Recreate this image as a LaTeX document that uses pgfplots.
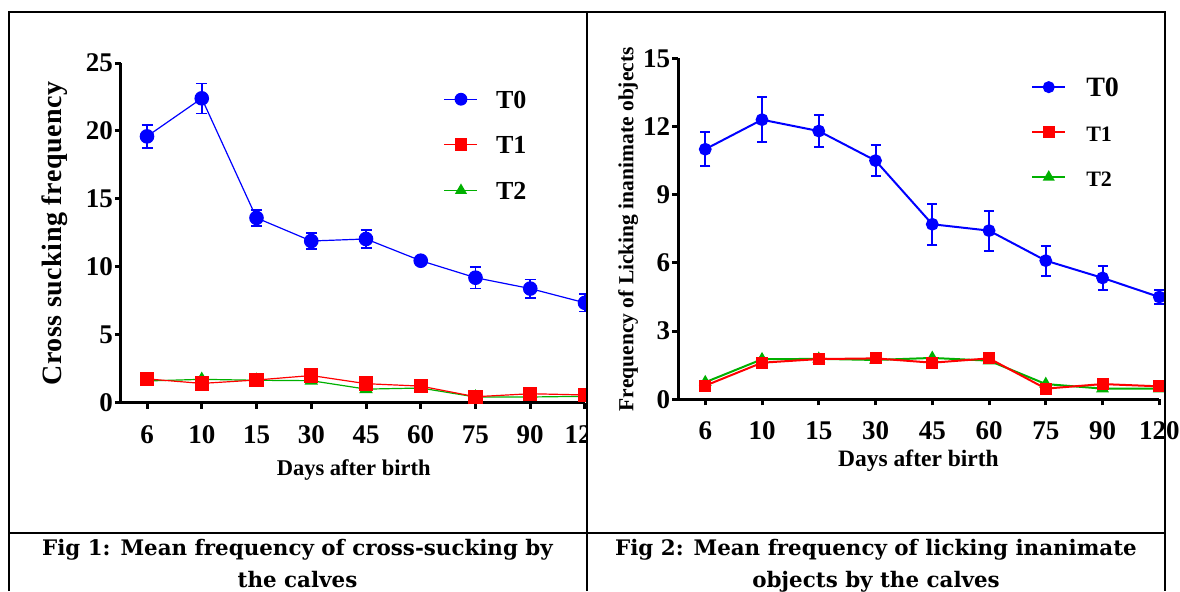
\documentclass[border=0pt]{standalone}
\usepackage{pgfplots}
\usepackage{pgfplotstable}
\pgfplotsset{compat=1.18}
\usepackage{fontspec}
\setmainfont{Liberation Serif}
\newfontfamily\capfont{DejaVu Serif}

\definecolor{tzero}{RGB}{0,0,255}
\definecolor{tone}{RGB}{255,0,0}
\definecolor{ttwo}{RGB}{0,176,0}

% cross-sucking (Fig 1)
\pgfplotstableread{
x y e
0 19.6 0.85
1 22.4 1.1
2 13.6 0.6
3 11.9 0.6
4 12.05 0.65
5 10.45 0.25
6 9.2 0.8
7 8.4 0.68
8 7.35 0.65
}\csZero
\pgfplotstableread{
x y
0 1.75
1 1.42
2 1.67
3 2.0
4 1.4
5 1.22
6 0.44
7 0.66
8 0.57
}\csOne
\pgfplotstableread{
x y
0 1.6
1 1.72
2 1.65
3 1.62
4 1.0
5 1.08
6 0.42
7 0.42
8 0.47
}\csTwo

% licking inanimate objects (Fig 2)
\pgfplotstableread{
x y e
0 11.0 0.75
1 12.3 1.0
2 11.8 0.72
3 10.5 0.67
4 7.7 0.9
5 7.42 0.88
6 6.1 0.66
7 5.34 0.52
8 4.5 0.32
}\lkZero
\pgfplotstableread{
x y
0 0.6
1 1.61
2 1.77
3 1.8
4 1.61
5 1.8
6 0.47
7 0.67
8 0.57
}\lkOne
\pgfplotstableread{
x y
0 0.75
1 1.76
2 1.78
3 1.73
4 1.82
5 1.7
6 0.67
7 0.47
8 0.47
}\lkTwo

\pgfplotsset{
  calfaxis/.style={
    scale only axis,
    axis x line*=bottom, axis y line*=left,
    axis line style={-, line width=1.5pt},
    xmin=-0.475, xmax=8, ymin=0,
    xtick={0,...,8},
    xticklabels={6,10,15,30,45,60,75,90,120},
    tick align=outside,
    major tick length=3pt,
    major tick style={black, line width=1.5pt},
    tick label style={font=\bfseries\fontsize{13.5}{13.5}\selectfont},
    /pgf/number format/assume math mode=true,
    xticklabel style={anchor=base, yshift=-17.2pt},
    yticklabel style={xshift=2.5pt},
    clip=false,
    legend image code/.code={\draw[mark repeat=2,mark phase=2] plot coordinates {(0pt,0pt)(8.25pt,0pt)(16.5pt,0pt)};},
    reverse legend,
  },
}

\begin{document}
\begin{tikzpicture}[x=0.5pt, y=0.5pt]
\path[use as bounding box] (0,0) rectangle (1180,591);

\begin{scope}
\clip (0,0) rectangle (587,591);
\begin{axis}[calfaxis,
    at={(60.5pt,94.15pt)}, anchor=south west,
    width=232pt, height=169.85pt,
    ymax=25, ytick={0,5,...,25},
    legend style={draw=none, fill=none, at={(rel axis cs:0.695,0.921)}, anchor=north west,
      inner sep=0pt, row sep=13.8pt, column sep=9pt,
      font=\bfseries\fontsize{13}{13}\selectfont,
      nodes={inner sep=0pt, text height=9pt, text depth=0pt}},
    legend cell align=left,
    legend image post style={mark size=2.9pt},
  ]
  \addplot[color=ttwo, line width=0.6pt, mark=triangle*, mark size=3.3pt, mark options={fill=ttwo}]
    table[x=x, y=y] {\csTwo};
  \addlegendentry{T2}
  \addplot[color=tone, line width=0.6pt, mark=square*, mark size=3.3pt, mark options={fill=tone}]
    table[x=x, y=y] {\csOne};
  \addlegendentry{T1}
  \addplot[color=tzero, line width=0.6pt, mark=*, mark size=3.35pt, mark options={fill=tzero},
    error bars/.cd, y dir=both, y explicit,
    error bar style={line width=0.75pt},
    error mark options={rotate=90, mark size=2.75pt, line width=0.75pt}]
    table[x=x, y=y, y error=e] {\csZero};
  \addlegendentry{T0}
\end{axis}
\end{scope}

\begin{axis}[calfaxis,
    at={(339.15pt,95.85pt)}, anchor=south west,
    width=240.5pt, height=170.5pt,
    ymax=15, ytick={0,3,...,15},
    legend style={draw=none, fill=none, at={(rel axis cs:0.733,0.943)}, anchor=north west,
      inner sep=0pt, row sep=13.5pt, column sep=10pt,
      font=\bfseries\fontsize{11}{11}\selectfont,
      nodes={inner sep=0pt, text height=9pt, text depth=0pt}},
    legend cell align=left,
    legend image post style={mark size=2.5pt},
  ]
  \addplot[color=ttwo, line width=1pt, mark=triangle*, mark size=2.7pt, mark options={fill=ttwo}]
    table[x=x, y=y] {\lkTwo};
  \addlegendentry{T2}
  \addplot[color=tone, line width=1pt, mark=square*, mark size=2.5pt, mark options={fill=tone}]
    table[x=x, y=y] {\lkOne};
  \addlegendentry{T1}
  \addplot[color=tzero, line width=1pt, mark=*, mark size=2.7pt, mark options={fill=tzero},
    error bars/.cd, y dir=both, y explicit,
    error bar style={line width=1pt},
    error mark options={rotate=90, mark size=2.5pt, line width=1pt}]
    table[x=x, y=y, y error=e] {\lkZero};
  \addlegendentry[font=\bfseries\fontsize{14}{14}\selectfont]{T0}
\end{axis}

% axis titles
\node[rotate=90, anchor=base, font=\bfseries\fontsize{14}{14}\selectfont\addfontfeature{LetterSpace=2}] at (61.7,357.5) {Cross sucking frequency};
\node[anchor=base, font=\bfseries\fontsize{11.25}{11.25}\selectfont] at (353.7,116) {Days after birth};
\node[rotate=90, anchor=base, font=\bfseries\fontsize{10.75}{10.75}\selectfont] at (633.3,361.8) {Frequency of Licking inanimate objects};
\node[anchor=base, font=\bfseries\fontsize{11.75}{11.75}\selectfont] at (918.5,125) {Days after birth};

% frame
\draw[line width=1pt] (8.7,0) -- (8.7,579) -- (1164.5,579) -- (1164.5,0);
\draw[line width=1pt] (587,0) -- (587,579);
\draw[line width=1pt] (8.7,58) -- (1164.5,58);

% captions
\node[anchor=base, font=\capfont\bfseries\fontsize{10.7}{10.7}\selectfont] at (297.5,36) {Fig 1: Mean frequency of cross-sucking by};
\node[anchor=base, font=\capfont\bfseries\fontsize{10.7}{10.7}\selectfont] at (297.5,4) {the calves};
\node[anchor=base, font=\capfont\bfseries\fontsize{10.7}{10.7}\selectfont] at (876,36) {Fig 2: Mean frequency of licking inanimate};
\node[anchor=base, font=\capfont\bfseries\fontsize{10.7}{10.7}\selectfont] at (876,4) {objects by the calves};
\end{tikzpicture}
\end{document}
